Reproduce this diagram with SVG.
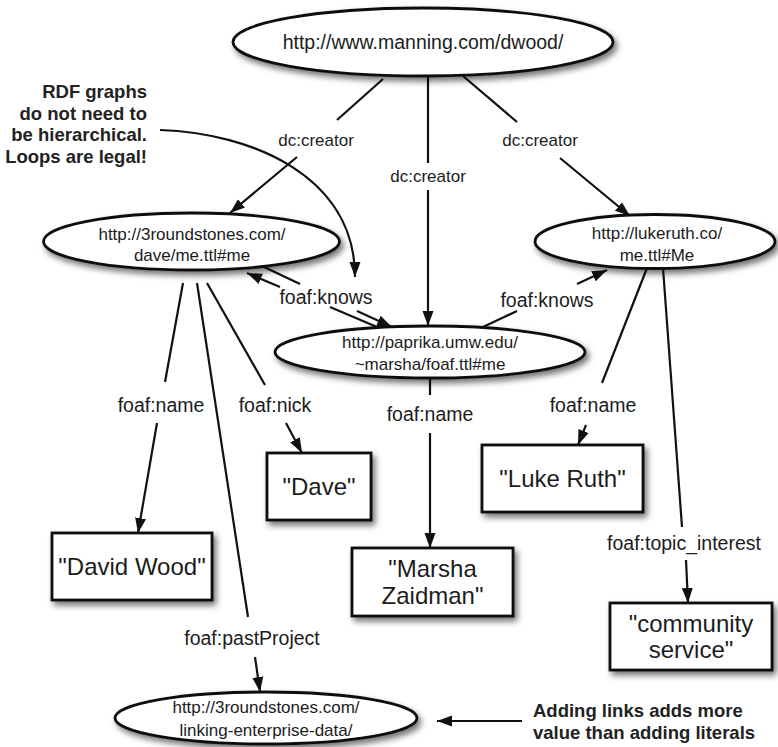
<svg xmlns="http://www.w3.org/2000/svg" width="778" height="747" viewBox="0 0 778 747">
  <defs>
    <filter id="shadow" x="-15%" y="-25%" width="135%" height="170%">
      <feDropShadow dx="3" dy="4" stdDeviation="3" flood-color="#000" flood-opacity="0.55"/>
    </filter>
    <marker id="arrow" markerUnits="userSpaceOnUse" markerWidth="16" markerHeight="12" refX="15" refY="6" orient="auto">
      <path d="M0,0.5 L15,6 L0,11.5 z" fill="#111"/>
    </marker>
  </defs>
  <style>
    .node ellipse, .node rect { fill: #fff; stroke: #111; stroke-width: 2.8; filter: url(#shadow); }
    text { font-family: "Liberation Sans", Arial, Helvetica, sans-serif; fill: #1c1c1c; }
    .uri { font-size: 17px; text-anchor: middle; }
    .uri.big { font-size: 19.5px; }
    .lit { font-size: 24px; text-anchor: middle; }
    .edge { stroke: #111; stroke-width: 2.2; fill: none; }
    .arr { marker-end: url(#arrow); }
    .lbl { font-size: 19.5px; text-anchor: middle; }
    .lbl.dc { font-size: 17px; }
    .note { font-size: 18.5px; font-weight: bold; fill: #222; }
  </style>

  <!-- connectors (drawn first, broken where labels sit) -->
  <g id="connectors">
    <!-- dc:creator -->
    <line class="edge" x1="383" y1="79" x2="337" y2="120"/>
    <line class="edge arr" x1="297" y1="157" x2="230" y2="213"/>
    <line class="edge" x1="428" y1="76" x2="428" y2="163"/>
    <line class="edge arr" x1="428" y1="190" x2="428" y2="326"/>
    <line class="edge" x1="463" y1="76" x2="517" y2="122"/>
    <line class="edge arr" x1="560" y1="158" x2="630" y2="216"/>
    <!-- foaf:knows -->
    <line class="edge" x1="262" y1="266" x2="300" y2="284"/>
    <line class="edge arr" x1="357" y1="311" x2="392" y2="327"/>
    <line class="edge" x1="377" y1="327" x2="330" y2="307"/>
    <line class="edge arr" x1="280" y1="287" x2="247" y2="273"/>
    <line class="edge" x1="483" y1="327" x2="517" y2="311"/>
    <line class="edge arr" x1="577" y1="284" x2="607" y2="270"/>
    <!-- foaf:name / nick / pastProject from dave -->
    <line class="edge" x1="183" y1="283" x2="165" y2="382"/>
    <line class="edge arr" x1="157" y1="423" x2="138" y2="533"/>
    <line class="edge" x1="207" y1="283" x2="265" y2="385"/>
    <line class="edge arr" x1="286" y1="423" x2="302" y2="453"/>
    <line class="edge" x1="197" y1="283" x2="248" y2="617"/>
    <line class="edge arr" x1="255" y1="657" x2="260" y2="692"/>
    <!-- foaf:name from marsha -->
    <line class="edge" x1="430" y1="378" x2="430" y2="395"/>
    <line class="edge arr" x1="430" y1="433" x2="430" y2="548"/>
    <!-- foaf:name / topic_interest from luke -->
    <line class="edge" x1="647" y1="268" x2="602" y2="383"/>
    <line class="edge arr" x1="586" y1="425" x2="578" y2="445"/>
    <line class="edge" x1="663" y1="268" x2="682" y2="527"/>
    <line class="edge arr" x1="686" y1="560" x2="688" y2="603"/>
  </g>

  <g id="edge-labels">
    <text class="lbl dc" x="316" y="146">dc:creator</text>
    <text class="lbl dc" x="428" y="182">dc:creator</text>
    <text class="lbl dc" x="540" y="146">dc:creator</text>
    <text class="lbl" x="326" y="304">foaf:knows</text>
    <text class="lbl" x="547" y="307">foaf:knows</text>
    <text class="lbl" x="161" y="412">foaf:name</text>
    <text class="lbl" x="275" y="412">foaf:nick</text>
    <text class="lbl" x="430" y="421">foaf:name</text>
    <text class="lbl" x="593" y="412">foaf:name</text>
    <text class="lbl" x="684" y="550">foaf:topic_interest</text>
    <text class="lbl" x="252" y="645">foaf:pastProject</text>
  </g>

  <!-- resource nodes -->
  <g id="dwood" class="node">
    <ellipse cx="423" cy="42" rx="190" ry="34"/>
    <text class="uri big" x="423" y="49">http://www.manning.com/dwood/</text>
  </g>
  <g id="dave" class="node">
    <ellipse cx="191.5" cy="241.5" rx="148" ry="28.5"/>
    <text class="uri" x="192" y="240">http://3roundstones.com/</text>
    <text class="uri" x="192" y="261">dave/me.ttl#me</text>
  </g>
  <g id="luke" class="node">
    <ellipse cx="655" cy="241.5" rx="120" ry="27"/>
    <text class="uri" x="657" y="239">http://lukeruth.co/</text>
    <text class="uri" x="657" y="261">me.ttl#Me</text>
  </g>
  <g id="marsha" class="node">
    <ellipse cx="430" cy="352" rx="155" ry="26"/>
    <text class="uri" x="430" y="348">http://paprika.umw.edu/</text>
    <text class="uri" x="430" y="370">~marsha/foaf.ttl#me</text>
  </g>
  <g id="led" class="node">
    <ellipse cx="266" cy="718" rx="151" ry="26"/>
    <text class="uri" x="266" y="713">http://3roundstones.com/</text>
    <text class="uri" x="266" y="736">linking-enterprise-data/</text>
  </g>

  <!-- literal nodes -->
  <g id="lit-dave" class="node">
    <rect x="267" y="453" width="104" height="67"/>
    <text class="lit" x="319" y="495">"Dave"</text>
  </g>
  <g id="lit-luke" class="node">
    <rect x="482" y="445" width="161" height="67"/>
    <text class="lit" x="562.5" y="487">"Luke Ruth"</text>
  </g>
  <g id="lit-david" class="node">
    <rect x="52" y="533" width="160" height="67"/>
    <text class="lit" x="132" y="575">"David Wood"</text>
  </g>
  <g id="lit-marsha" class="node">
    <rect x="352" y="548" width="161" height="68"/>
    <text class="lit" x="432.5" y="577">"Marsha</text>
    <text class="lit" x="432.5" y="604">Zaidman"</text>
  </g>
  <g id="lit-community" class="node">
    <rect x="610" y="603" width="162" height="67"/>
    <text class="lit" x="691" y="632">"community</text>
    <text class="lit" x="691" y="658">service"</text>
  </g>

  <!-- annotations -->
  <g id="note-loops">
    <text class="note" text-anchor="end" x="147" y="98">RDF graphs</text>
    <text class="note" text-anchor="end" x="147" y="120">do not need to</text>
    <text class="note" text-anchor="end" x="147" y="141">be hierarchical.</text>
    <text class="note" text-anchor="end" x="147" y="163">Loops are legal!</text>
    <path class="edge arr" d="M160,130 C250,133 355,175 355,277"/>
  </g>
  <g id="note-links">
    <text class="note" x="533" y="717">Adding links adds more</text>
    <text class="note" x="533" y="739">value than adding literals</text>
    <line class="edge arr" x1="522" y1="721" x2="437" y2="721"/>
  </g>
</svg>
